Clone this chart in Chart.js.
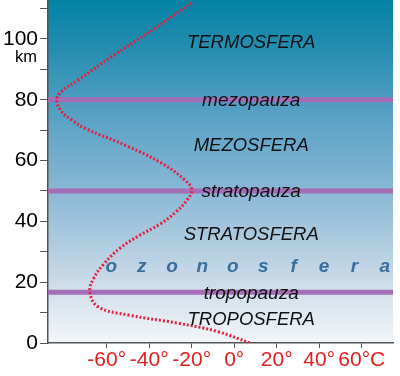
<!DOCTYPE html>
<html>
<head>
<meta charset="utf-8">
<script src="https://cdn.jsdelivr.net/npm/chart.js@4"></script>
<style>
  body { margin: 0; background: #fff; }
  #wrap { width: 400px; height: 376px; }
</style>
</head>
<body>
<div id="wrap"><canvas id="chart" width="400" height="376"></canvas></div>
<script>
// temperature profile (°C vs km)
const temps = [-20.0, -37.3, -57.6, -73.4, -81.2, -83.5, -81.2, -76.5, -70.2, -49.8, -34.1, -23.2, -20.0, -22.2, -27.4, -34.9, -44.3, -53.7, -61.3, -66.0, -67.9, -64.0, -49.8, -26.3, -7.5, 7.4]
const altitudes = [111.9, 103.5, 94.2, 86.5, 82.7, 79.9, 76.1, 73.4, 70.6, 64.6, 59.1, 53.6, 50.3, 47.0, 43.1, 39.1, 35.5, 31.2, 26.0, 21.4, 16.8, 11.9, 9.2, 6.5, 3.7, 0]

const layerNames = ['TERMOSFERA', 'MEZOSFERA', 'STRATOSFERA', 'TROPOSFERA']
const layerAlts = [98.7, 64.8, 35.5, 7.6]
const pauseNames = ['mezopauza', 'stratopauza', 'tropopauza']
const pauseAlts = [80, 50, 16.7]
const ozoneName = 'ozonosfera'
const ozoneAlt = 25
const xTicks = [-60, -40, -20, 0, 20, 40, 60]
const yLabelTicks = [0, 20, 40, 60, 80, 100]

const layersPlugin = {
    id: 'layers',
    beforeDraw(chart) {
        const {ctx, chartArea: a} = chart
        const g = ctx.createLinearGradient(0, a.top, 0, a.bottom)
        g.addColorStop(0, '#0382a5')
        g.addColorStop(0.15, '#288eb1')
        g.addColorStop(0.3, '#4f9dc1')
        g.addColorStop(0.55, '#88b7d5')
        g.addColorStop(0.75, '#b9d1e3')
        g.addColorStop(0.9, '#dde7f0')
        g.addColorStop(1, '#f3f6f9')
        ctx.save()
        ctx.fillStyle = g
        ctx.fillRect(a.left, a.top, a.right - a.left, a.bottom - a.top)
        ctx.restore()
    },
    beforeDatasetsDraw(chart) {
        const {ctx, chartArea: a, scales: {y}} = chart
        ctx.save()
        ctx.strokeStyle = '#a46db5'
        ctx.lineWidth = 5
        pauseAlts.forEach(v => {
            const py = y.getPixelForValue(v)
            ctx.beginPath()
            ctx.moveTo(a.left, py)
            ctx.lineTo(a.right, py)
            ctx.stroke()
        })
        ctx.restore()
    },
    afterDatasetsDraw(chart) {
        const {ctx, scales: {x, y}} = chart
        const cx = x.getPixelForValue(8)
        ctx.save()
        ctx.textAlign = 'center'
        ctx.textBaseline = 'middle'
        ctx.fillStyle = '#111'
        ctx.font = 'italic 18.5px "Liberation Sans", Arial, sans-serif'
        layerNames.forEach((t, i) => ctx.fillText(t, cx, y.getPixelForValue(layerAlts[i])))
        ctx.font = 'italic 19px "Liberation Sans", Arial, sans-serif'
        pauseNames.forEach((t, i) => ctx.fillText(t, cx, y.getPixelForValue(pauseAlts[i]) + 1))
        // spaced-out ozone layer label
        ctx.fillStyle = '#3a6e9b'
        ctx.font = 'italic bold 19px "Liberation Sans", Arial, sans-serif'
        const ox = x.getPixelForValue(6.5)
        const oy = y.getPixelForValue(ozoneAlt)
        ozoneName.split('').forEach((ch, i) => {
            ctx.fillText(ch, ox + (i - (ozoneName.length - 1) / 2) * 30.4, oy)
        })
        // unit under the 100 tick
        ctx.fillStyle = '#000'
        ctx.font = '16.5px "Liberation Sans", Arial, sans-serif'
        ctx.fillText('km', 26, y.getPixelForValue(100) + 19)
        ctx.restore()
    }
}

new Chart(document.getElementById('chart'), {
    type: 'scatter',
    data: {
        datasets: [{
            data: temps.map((t, i) => ({x: t, y: altitudes[i]})),
            showLine: true,
            borderColor: '#e3203e',
            borderWidth: 3,
            borderDash: [2, 2],
            tension: 0.4,
            pointRadius: 0,
            fill: false
        }]
    },
    options: {
        responsive: false,
        animation: false,
        layout: {padding: {top: 0, right: 7, left: 0, bottom: 0}},
        plugins: {legend: {display: false}, tooltip: {enabled: false}},
        scales: {
            x: {
                type: 'linear',
                min: -87.6,
                max: 74.7,
                afterBuildTicks: (scale) => { scale.ticks = xTicks.map(v => ({value: v})) },
                afterFit: (scale) => { scale.height = 33; scale.paddingLeft = 0; scale.paddingRight = 0 },
                grid: {drawOnChartArea: false, tickLength: 5, color: '#555'},
                border: {display: true, color: '#555', width: 1.5},
                ticks: {
                    color: '#e3201e',
                    padding: 0,
                    font: {family: '"Liberation Sans", Arial, sans-serif', size: 21},
                    callback: (v) => v === 60 ? v + '°C' : v + '°'
                }
            },
            y: {
                type: 'linear',
                min: 0,
                max: 112.8,
                afterBuildTicks: (scale) => {
                    const t = []
                    for (let v = 0; v <= 110; v += 10) t.push({value: v})
                    scale.ticks = t
                },
                afterFit: (scale) => { scale.width = 48; scale.paddingTop = 0; scale.paddingBottom = 0 },
                grid: {drawOnChartArea: false, tickLength: 8, color: '#555'},
                border: {display: true, color: '#555', width: 1.5},
                ticks: {
                    color: '#000',
                    padding: 2,
                    font: {family: '"Liberation Sans", Arial, sans-serif', size: 21},
                    callback: (v) => yLabelTicks.includes(v) ? String(v) : ''
                }
            }
        }
    },
    plugins: [layersPlugin]
})
</script>
</body>
</html>
